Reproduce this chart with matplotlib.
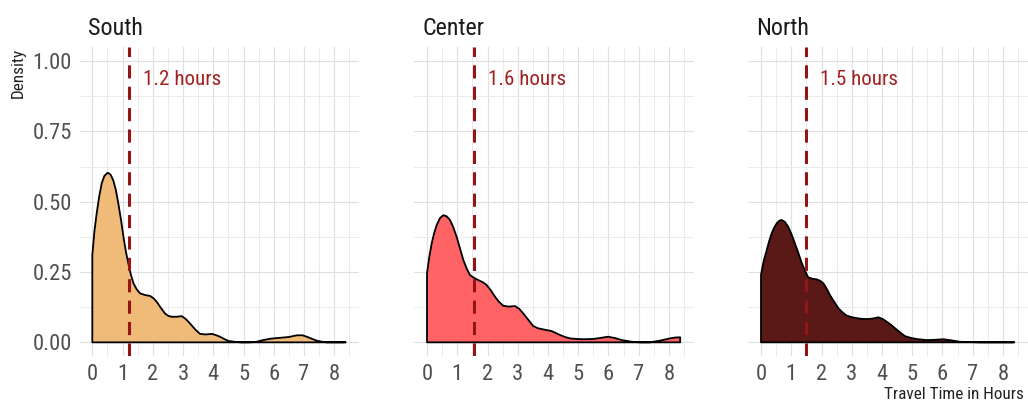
import matplotlib
matplotlib.use("Agg")
import matplotlib.pyplot as plt
from matplotlib import font_manager as fm
import numpy as np

_names = {f.name for f in fm.fontManager.ttflist}
FONT = next((n for n in ["Roboto Condensed", "Roboto", "DejaVu Sans"] if n in _names), "DejaVu Sans")
plt.rcParams['font.family'] = [FONT, 'DejaVu Sans']

# ---------------- data ----------------
regions = ["South", "Center", "North"]
mean_hours = [1.22, 1.56, 1.49]

south_x = [0, 0.07, 0.145, 0.23, 0.31, 0.40, 0.51, 0.60, 0.69, 0.78, 0.86, 0.95, 1.03, 1.11,
           1.19, 1.27, 1.36, 1.47, 1.58, 1.75, 1.91, 2.02, 2.13, 2.27, 2.40, 2.51, 2.62, 2.79,
           2.96, 3.10, 3.23, 3.40, 3.56, 3.75, 3.95, 4.08, 4.22, 4.36, 4.50, 4.70, 4.94, 5.20,
           5.43, 5.65, 5.90, 6.20, 6.50, 6.76, 6.95, 7.09, 7.25, 7.42, 7.60, 7.75, 8.00, 8.37]
south_y = [0.310, 0.395, 0.459, 0.520, 0.565, 0.592, 0.603, 0.597, 0.577, 0.541, 0.494, 0.435,
           0.375, 0.323, 0.281, 0.243, 0.210, 0.188, 0.174, 0.168, 0.165, 0.157, 0.144, 0.122,
           0.103, 0.094, 0.091, 0.091, 0.093, 0.082, 0.067, 0.046, 0.030, 0.028, 0.030, 0.026,
           0.020, 0.012, 0.005, 0.002, 0.000, 0.000, 0.002, 0.008, 0.013, 0.016, 0.019, 0.025,
           0.025, 0.020, 0.013, 0.006, 0.002, 0.000, 0.000, 0.000]

center_x = [0, 0.07, 0.155, 0.24, 0.32, 0.43, 0.54, 0.65, 0.76, 0.87, 0.98, 1.09, 1.20, 1.31,
            1.42, 1.56, 1.70, 1.84, 1.97, 2.11, 2.25, 2.38, 2.52, 2.70, 2.91, 3.05, 3.18, 3.35,
            3.51, 3.67, 3.84, 3.98, 4.12, 4.26, 4.40, 4.56, 4.73, 4.95, 5.17, 5.50, 5.75, 5.99,
            6.22, 6.44, 6.77, 7.05, 7.37, 7.70, 8.03, 8.20, 8.37]
center_y = [0.245, 0.300, 0.352, 0.390, 0.417, 0.442, 0.452, 0.448, 0.435, 0.409, 0.375, 0.334,
            0.293, 0.263, 0.239, 0.229, 0.221, 0.214, 0.204, 0.185, 0.162, 0.144, 0.130, 0.127,
            0.129, 0.119, 0.103, 0.080, 0.058, 0.050, 0.046, 0.043, 0.040, 0.033, 0.026, 0.019,
            0.014, 0.012, 0.011, 0.012, 0.016, 0.020, 0.015, 0.008, 0.002, 0.000, 0.000, 0.006,
            0.014, 0.017, 0.018]

north_x = [0, 0.09, 0.19, 0.27, 0.35, 0.43, 0.52, 0.60, 0.68, 0.79, 0.90, 1.01, 1.12, 1.24,
           1.35, 1.46, 1.56, 1.70, 1.84, 1.95, 2.06, 2.17, 2.28, 2.42, 2.56, 2.70, 2.83, 3.02,
           3.22, 3.38, 3.55, 3.72, 3.88, 4.02, 4.16, 4.30, 4.43, 4.60, 4.76, 4.98, 5.20, 5.47,
           5.75, 6.02, 6.30, 6.57, 6.90, 7.23, 7.80, 8.37]
north_y = [0.240, 0.290, 0.328, 0.360, 0.387, 0.407, 0.423, 0.432, 0.435, 0.428, 0.411, 0.384,
           0.352, 0.316, 0.281, 0.253, 0.231, 0.226, 0.224, 0.219, 0.210, 0.191, 0.168, 0.144,
           0.121, 0.106, 0.095, 0.089, 0.085, 0.083, 0.083, 0.085, 0.089, 0.083, 0.073, 0.062,
           0.050, 0.035, 0.022, 0.015, 0.011, 0.008, 0.009, 0.011, 0.007, 0.002, 0.001, 0.000,
           0.000, 0.000]

curves_x = [south_x, center_x, north_x]
curves_y = [south_y, center_y, north_y]

x_ticks = [0, 1, 2, 3, 4, 5, 6, 7, 8]
y_ticks = [0.00, 0.25, 0.50, 0.75, 1.00]
y_tick_labels = ["0.00", "0.25", "0.50", "0.75", "1.00"]

# ---------------- style ----------------
fills = ["#F0BA78", "#FF6366", "#5A1917"]
line_red = "#931515"
text_red = "#A02222"
W, H = 1028, 403
panel_lefts = [79.6, 414.3, 748.3]
panel_w, panel_top, panel_bot = 279.5, 47.0, 356.4

fig = plt.figure(figsize=(W / 100, H / 100), dpi=100)

for i, name in enumerate(regions):
    ax = fig.add_axes([panel_lefts[i] / W, (H - panel_bot) / H,
                       panel_w / W, (panel_bot - panel_top) / H])
    ax.set_xlim(-0.42, 8.82)
    ax.set_ylim(-0.05, 1.05)
    ax.set_xticks(x_ticks)
    ax.set_xticks([t + 0.5 for t in x_ticks], minor=True)
    ax.set_yticks(y_ticks)
    ax.set_yticks([t + 0.125 for t in y_ticks[:-1]], minor=True)
    ax.grid(which='major', color='#E0E0E0', lw=0.85)
    ax.grid(which='minor', color='#EAEAEA', lw=0.65)
    ax.set_axisbelow(True)
    for s in ax.spines.values():
        s.set_visible(False)
    ax.tick_params(which='both', length=0)
    ax.tick_params(axis='x', labelsize=16.2, labelcolor='#505050', pad=5.5)
    if i == 0:
        ax.set_yticklabels(y_tick_labels)
        ax.tick_params(axis='y', labelsize=16.2, labelcolor='#505050', pad=5.5)
    else:
        ax.tick_params(axis='y', labelleft=False)

    xs = np.asarray(curves_x[i])
    ys = np.asarray(curves_y[i])
    poly = ax.fill(np.r_[xs, xs[-1], xs[0]], np.r_[ys, 0, 0],
                   facecolor=fills[i], edgecolor='black', lw=1.3, zorder=2)
    for p in poly:
        p.set_joinstyle('round')

    m = mean_hours[i]
    ax.plot([m, m], [-0.05, 1.05], color=line_red, lw=2.2, zorder=3,
            linestyle=(0, (4.3, 2.7)), solid_capstyle='butt', dash_capstyle='butt')
    ax.text(m + 0.45, 0.915, f"{m:.1f} hours", color=text_red, fontsize=15.1,
            ha='left', va='baseline', zorder=4)

    fig.text((panel_lefts[i] + 8) / W, (H - 35) / H, name, fontsize=17.3,
             color='#1A1A1A', ha='left', va='baseline')

fig.text(18.5 / W, (H - 48) / H, "Density", rotation=90, ha='center', va='top',
         fontsize=12.3, color='#222222')
fig.text(1024 / W, (H - 399) / H, "Travel Time in Hours", ha='right', va='baseline',
         fontsize=12.3, color='#222222')

fig.savefig("out.png", dpi=100)
